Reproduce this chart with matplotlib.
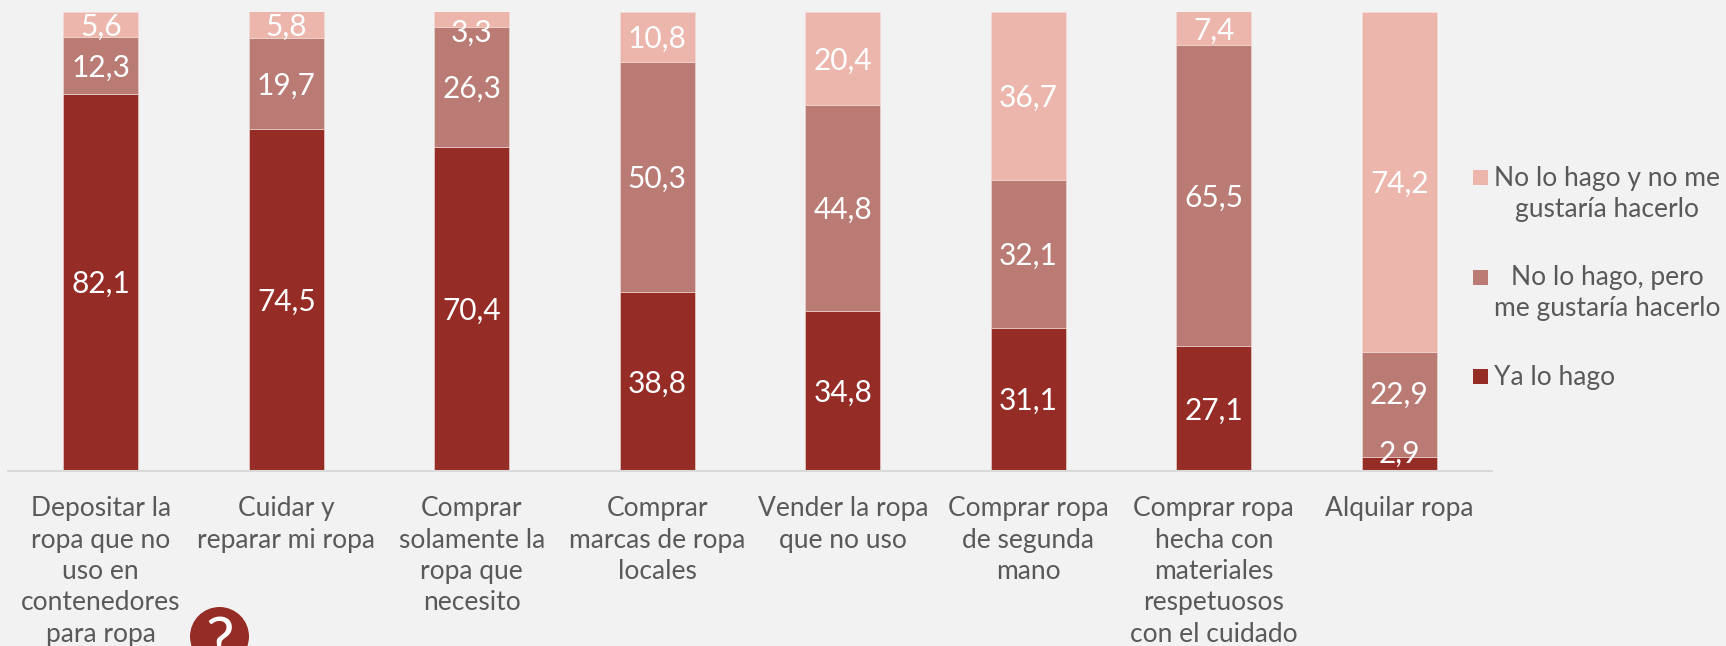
"""Barras apiladas: prácticas de consumo de ropa (%)"""

import matplotlib

matplotlib.use("Agg")
import matplotlib.pyplot as plt
from matplotlib.patches import Circle, Rectangle

plt.rcParams["font.family"] = ["Lato", "Carlito", "Open Sans", "DejaVu Sans"]

categories = [
    "Depositar la\nropa que no\nuso en\ncontenedores\npara ropa",
    "Cuidar y\nreparar mi ropa",
    "Comprar\nsolamente la\nropa que\nnecesito",
    "Comprar\nmarcas de ropa\nlocales",
    "Vender la ropa\nque no uso",
    "Comprar ropa\nde segunda\nmano",
    "Comprar ropa\nhecha con\nmateriales\nrespetuosos\ncon el cuidado",
    "Alquilar ropa",
]
ya_lo_hago = [82.1, 74.5, 70.4, 38.8, 34.8, 31.1, 27.1, 2.9]
me_gustaria = [12.3, 19.7, 26.3, 50.3, 44.8, 32.1, 65.5, 22.9]
no_me_gustaria = [5.6, 5.8, 3.3, 10.8, 20.4, 36.7, 7.4, 74.2]
series_names = [
    "Ya lo hago",
    "No lo hago, pero\nme gustaría hacerlo",
    "No lo hago y no me\ngustaría hacerlo",
]
series_colors = ["#952C26", "#BA7B75", "#ECB6AD"]

BG = "#F2F2F2"
TEXT = "#595959"
W, H = 1726, 646
FONT = 19

fig = plt.figure(figsize=(W / 100, H / 100), dpi=100, facecolor=BG)
ax = fig.add_axes([8 / W, 1 - 470.5 / H, 1484 / W, 459 / H], facecolor=BG)

# desplazamiento (puntos) de las etiquetas movidas a mano en el original
label_nudge = {2.9: 7, 3.3: -10, 22.9: 7}

x = list(range(len(categories)))
bottom = [0.0] * len(categories)
for values, color in zip([ya_lo_hago, me_gustaria, no_me_gustaria], series_colors):
    bars = ax.bar(
        x, values, width=0.404, bottom=bottom, color=color,
        edgecolor="#F2DCD8", linewidth=0.4,
    )
    labels = [f"{v:.1f}".replace(".", ",") for v in values]
    texts = ax.bar_label(
        bars, labels=labels, label_type="center", color="white", fontsize=21.5
    )
    for ann, v in zip(texts, values):
        ann.xyann = (0, label_nudge.get(v, -1.5))
    bottom = [b + v for b, v in zip(bottom, values)]

ax.set_xlim(-0.5, len(categories) - 0.5)
ax.set_ylim(0, 100)
ax.set_yticks([])
ax.set_xticks(x)
ax.set_xticklabels(categories, fontsize=FONT, color=TEXT, linespacing=1.32, ma="center")
ax.tick_params(axis="x", length=0, pad=18.5)
for side in ["top", "left", "right"]:
    ax.spines[side].set_visible(False)
ax.spines["bottom"].set_color("#D9D9D9")
ax.spines["bottom"].set_linewidth(1.5)

# leyenda a mano: el cuadro va alineado con la primera línea del texto
legend_text_y = [378, 293, 194]
legend_box_y = [376, 277, 177]
for name, color, ty, by in zip(series_names, series_colors, legend_text_y, legend_box_y):
    fig.add_artist(
        Rectangle((1473, H - by - 7.5), 15, 15, transform=None, facecolor=color, edgecolor="none")
    )
    fig.text(
        1494 / W, 1 - ty / H, name, color=TEXT, fontsize=FONT,
        ha="left", va="center", ma="center", linespacing=1.32,
    )

# icono de interrogación, cortado por el borde inferior
fig.add_artist(
    Circle((219.5, H - 636.5), 29.5, transform=None, facecolor="#952C26", edgecolor="none")
)
fig.text(219.5 / W, 1 - 663 / H, "?", color="white", fontsize=46, ha="center", va="baseline")

fig.savefig("out.png", dpi=100, facecolor=BG)
